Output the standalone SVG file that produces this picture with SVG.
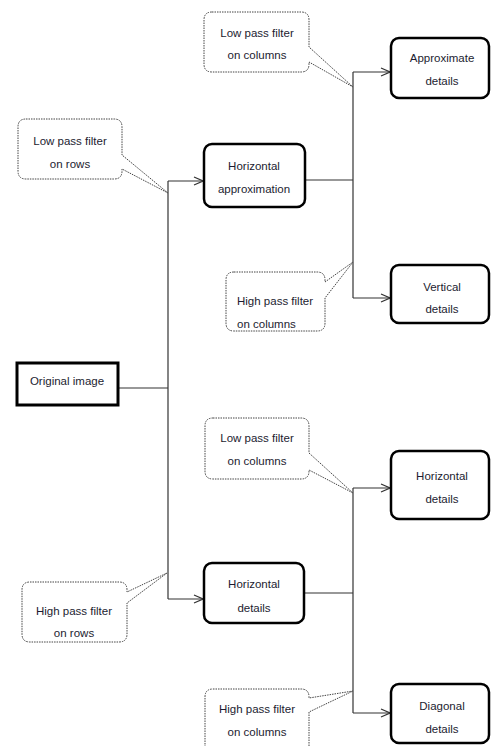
<svg xmlns="http://www.w3.org/2000/svg" width="492" height="746" viewBox="0 0 492 746">
<style>
  .node { fill: #ffffff; stroke: #000000; stroke-width: 2.5; }
  .call { fill: #ffffff; stroke: #444444; stroke-width: 1; stroke-dasharray: 1.5 1; }
  .conn { fill: none; stroke: #333333; stroke-width: 1.2; }
  text { font-family: "Liberation Sans", Arial, sans-serif; font-size: 11.5px; fill: #1c1c30; }
  .c { text-anchor: middle; }
</style>
<defs>
  <marker id="arr" viewBox="0 0 10 10" refX="10" refY="5" markerWidth="10" markerHeight="10" markerUnits="userSpaceOnUse" orient="auto">
    <path d="M1,1 L10,5 L1,9" fill="none" stroke="#333333" stroke-width="1.2"/>
  </marker>
</defs>
<rect width="492" height="746" fill="#ffffff"/>

<g id="connectors">
  <path class="conn" d="M118,388 H168"/>
  <path class="conn" d="M168,181 V599"/>
  <path class="conn" d="M168,181 H203" marker-end="url(#arr)"/>
  <path class="conn" d="M168,599 H203" marker-end="url(#arr)"/>
  <path class="conn" d="M305,180 H353"/>
  <path class="conn" d="M353,72 V298"/>
  <path class="conn" d="M353,72 H390" marker-end="url(#arr)"/>
  <path class="conn" d="M353,298 H390" marker-end="url(#arr)"/>
  <path class="conn" d="M304,593 H353"/>
  <path class="conn" d="M353,488 V713"/>
  <path class="conn" d="M353,488 H390" marker-end="url(#arr)"/>
  <path class="conn" d="M353,713 H390" marker-end="url(#arr)"/>
</g>

<g id="callout-lp-rows">
  <path class="call" d="M26,119 H114 Q122,119 122,127 V155 L168,193 L122,169 V171 Q122,179 114,179 H26 Q18,179 18,171 V127 Q18,119 26,119 Z"/>
  <text class="c" x="70" y="145">Low pass filter</text>
  <text class="c" x="70" y="168">on rows</text>
</g>

<g id="callout-lp-cols-1">
  <path class="call" d="M212,12 H301 Q309,12 309,20 V47 L353,87 L309,62 V64 Q309,72 301,72 H212 Q204,72 204,64 V20 Q204,12 212,12 Z"/>
  <text class="c" x="257" y="37">Low pass filter</text>
  <text class="c" x="257" y="59">on columns</text>
</g>

<g id="callout-hp-cols-1">
  <path class="call" d="M234,272 H317 Q325,272 325,280 V282 L353,262 L325,298 V323 Q325,331 317,331 H234 Q226,331 226,323 V280 Q226,272 234,272 Z"/>
  <text x="237" y="305">High pass filter</text>
  <text x="237" y="328">on columns</text>
</g>

<g id="callout-lp-cols-2">
  <path class="call" d="M213,418 H301 Q309,418 309,426 V453 L353,493 L309,470 V471 Q309,479 301,479 H213 Q205,479 205,471 V426 Q205,418 213,418 Z"/>
  <text class="c" x="257" y="442">Low pass filter</text>
  <text class="c" x="257" y="465">on columns</text>
</g>

<g id="callout-hp-rows">
  <path class="call" d="M30,582 H119 Q127,582 127,590 V592 L167,573 L127,603 V634 Q127,642 119,642 H30 Q22,642 22,634 V590 Q22,582 30,582 Z"/>
  <text class="c" x="74" y="615">High pass filter</text>
  <text class="c" x="74" y="637">on rows</text>
</g>

<g id="callout-hp-cols-2">
  <path class="call" d="M213,689 H301 Q309,689 309,697 V698 L353,691 L309,712 V760 H205 V697 Q205,689 213,689 Z"/>
  <text class="c" x="257" y="713">High pass filter</text>
  <text class="c" x="257" y="736">on columns</text>
</g>

<g id="original-image">
  <rect x="17" y="363" width="101" height="42" fill="#ffffff" stroke="#000000" stroke-width="3"/>
  <text class="c" x="67" y="385">Original image</text>
</g>

<g id="horizontal-approximation">
  <rect class="node" x="204" y="144" width="101" height="63" rx="8"/>
  <text class="c" x="254" y="170">Horizontal</text>
  <text class="c" x="254" y="193">approximation</text>
</g>

<g id="horizontal-details-mid">
  <rect class="node" x="204" y="563" width="100" height="60" rx="8"/>
  <text class="c" x="254" y="588">Horizontal</text>
  <text class="c" x="254" y="612">details</text>
</g>

<g id="approximate-details">
  <rect class="node" x="391" y="38" width="98" height="60" rx="8"/>
  <text class="c" x="442" y="62">Approximate</text>
  <text class="c" x="442" y="85">details</text>
</g>

<g id="vertical-details">
  <rect class="node" x="391" y="265" width="98" height="58" rx="8"/>
  <text class="c" x="442" y="291">Vertical</text>
  <text class="c" x="442" y="313">details</text>
</g>

<g id="horizontal-details-right">
  <rect class="node" x="391" y="451" width="98" height="68" rx="8"/>
  <text class="c" x="442" y="480">Horizontal</text>
  <text class="c" x="442" y="503">details</text>
</g>

<g id="diagonal-details">
  <rect class="node" x="391" y="684" width="98" height="59" rx="8"/>
  <text class="c" x="442" y="710">Diagonal</text>
  <text class="c" x="442" y="733">details</text>
</g>
</svg>
